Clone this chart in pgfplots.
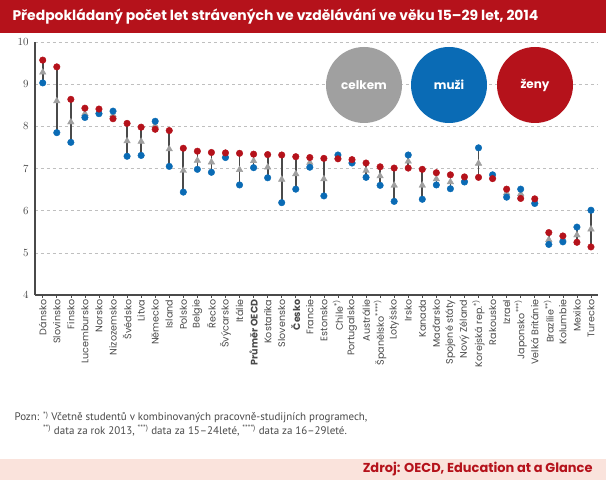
\documentclass[border=0pt]{standalone}
\usepackage{pgfplots}
\pgfplotsset{compat=1.18}
\usepackage{pgfplotstable}
\usepackage{fontspec}
\setmainfont{Poppins}
\newfontfamily\condfont{PT Sans}
\definecolor{cred}{HTML}{B5121B}
\definecolor{cblue}{HTML}{0A6BB5}
\definecolor{cgray}{HTML}{A0A0A0}
\definecolor{cdark}{HTML}{4A4A4A}
\definecolor{cpink}{HTML}{FAE3DC}
\pgfplotstableread{
x m f t
0 9.03 9.57 9.28
1 7.85 9.41 8.60
2 7.62 8.64 8.10
3 8.21 8.43 8.30
4 8.30 8.41 8.35
5 8.36 8.18 8.27
6 7.29 8.07 7.65
7 7.31 7.98 7.64
8 8.12 7.93 8.02
9 7.05 7.90 7.46
10 6.44 7.48 6.95
11 6.98 7.41 7.19
12 6.91 7.38 7.15
13 7.26 7.37 7.30
14 6.61 7.36 6.97
15 7.02 7.34 7.18
16 6.78 7.33 7.03
17 6.19 7.32 6.74
18 6.51 7.28 6.87
19 7.03 7.26 7.14
20 6.35 7.24 6.75
21 7.32 7.23 7.27
22 7.13 7.21 7.17
23 6.79 7.13 6.95
24 6.60 7.04 6.82
25 6.22 7.01 6.60
26 7.32 7.01 7.17
27 6.27 6.98 6.60
28 6.61 6.90 6.75
29 6.52 6.85 6.68
30 6.68 6.80 6.74
31 7.49 6.79 7.12
32 6.85 6.76 6.80
33 6.32 6.51 6.42
34 6.51 6.29 6.40
35 6.17 6.28 6.22
36 5.20 5.48 5.31
37 5.26 5.40 5.33
38 5.61 5.25 5.42
39 6.01 5.14 5.56
}\data
\begin{document}
\begin{tikzpicture}[x=1bp,y=1bp]
\useasboundingbox (0,0) rectangle (606,480);
\fill[white] (0,0) rectangle (606,480);
\fill[cred] (0,447) rectangle (606,480);
\node[anchor=west,text=white,font=\fontsize{14}{15}\selectfont\bfseries] at (9,463.5) {Předpokládaný počet let strávených ve vzdělávání ve věku 15–29 let, 2014};
\fill[cpink] (0,0) rectangle (606,21);
\node[anchor=east,text=cred,font=\fontsize{13}{14}\selectfont\bfseries] at (596,10.5) {Zdroj: OECD, Education at a Glance};
\node[anchor=north west,align=left,font=\condfont\fontsize{11}{14}\selectfont,text=cdark] at (11,72) {Pozn: \textsuperscript{*)} Včetně studentů v kombinovaných pracovně-studijních programech,\\
\hspace{2.6em}\textsuperscript{**)} data za rok 2013, \textsuperscript{***)} data za 15–24leté, \textsuperscript{****)} data za 16–29leté.};
\begin{axis}[
  at={(35bp,185bp)}, anchor=south west,
  scale only axis, width=563bp, height=253bp,
  xmin=-0.55, xmax=39.5, ymin=4, ymax=10,
  axis x line*=bottom, axis y line*=left,
  axis line style={cdark,line width=1.4pt,-},
  ytick={4,5,...,10},
  ymajorgrids, grid style={dashed,gray!50},
  y tick style={draw=none},
  xtick=data,
  x tick style={cdark,line width=0.6pt},
  tick align=outside, major tick length=3pt,
  yticklabel style={font=\fontsize{11}{11}\selectfont,text=cdark},
  xticklabel style={rotate=90,anchor=east,font=\fontsize{9.6}{10}\selectfont,text=cdark,inner sep=1.5pt},
  xticklabels={Dánsko,Slovinsko,Finsko,Lucembursko,Norsko,Nizozemsko,Švédsko,Litva,Německo,Island,Polsko,Belgie,Řecko,Švýcarsko,Itálie,\textbf{Průměr OECD},Kostarika,Slovensko,\textbf{Česko},Francie,Estonsko,Chile\textsuperscript{*)},Portugalsko,Austrálie,Španělsko\textsuperscript{****)},Lotyšsko,Irsko,Kanada,Maďarsko,Spojené státy,Nový Zéland,Korejská rep.\textsuperscript{*)},Rakousko,Izrael,Japonsko\textsuperscript{***)},Velká Británie,Brazílie\textsuperscript{**)},Kolumbie,Mexiko,Turecko},
  clip=false,
]
\addplot[draw=none, mark=none, error bars/.cd, y dir=plus, y explicit, error bar style={cdark,line width=1.7pt}, error mark=none]
  table[x=x, y expr={min(\thisrow{m},\thisrow{f})}, y error expr={abs(\thisrow{f}-\thisrow{m})}] {\data};
\addplot[only marks, mark=triangle*, mark size=3.8pt, color=cgray] table[x=x,y=t] {\data};
\addplot[only marks, mark=*, mark size=3.3pt, color=cblue] table[x=x,y=m] {\data};
\addplot[only marks, mark=*, mark size=3.3pt, color=cred] table[x=x,y=f] {\data};
\end{axis}
\fill[cgray] (364,395) circle (38);
\fill[cblue] (449,395) circle (38);
\fill[cred] (535,395) circle (38);
\node[text=white,font=\fontsize{12}{13}\selectfont\bfseries] at (364,395) {celkem};
\node[text=white,font=\fontsize{12}{13}\selectfont\bfseries] at (449,395) {muži};
\node[text=white,font=\fontsize{12}{13}\selectfont\bfseries] at (535,395) {ženy};
\end{tikzpicture}
\end{document}
